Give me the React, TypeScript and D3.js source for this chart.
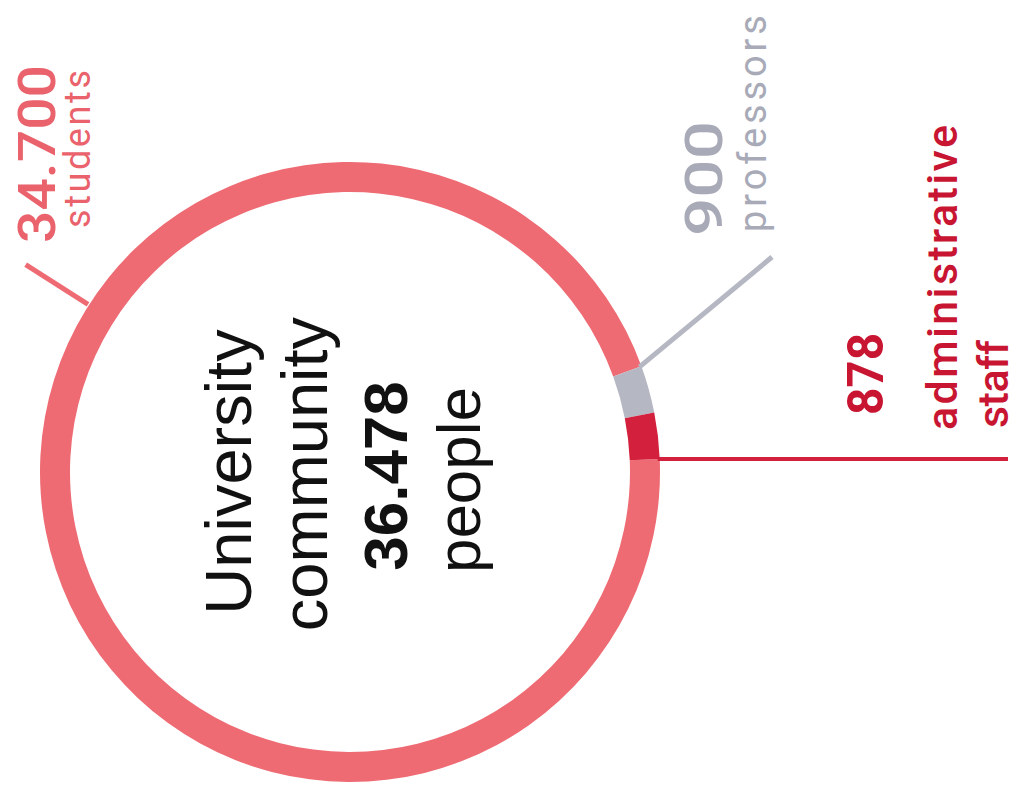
import React from "react";
import * as d3 from "d3";

// ---- data ----
const categories = ["students", "professors", "administrative staff"];
const counts = [34700, 900, 878];
const countLabels = ["34.700", "900", "878"];
const nameLines = [["students"], ["professors"], ["administrative", "staff"]];
const totalLabel = "36.478";
const centerLines = ["University", "community"];
const centerUnit = "people";

// ---- style / layout ----
const W = 1018;
const H = 787;
const cx = 350;
const cy = 472;
const R = 310;
const r = 280;
const sliceColors = ["#ee6b73", "#b5b7c3", "#d3203d"];
const labelColors = ["#e9626c", "#a8aab7", "#c81532"];
const adminEndDeg = 87.6;

export default function App() {
  const data = categories.map((c, i) => ({ name: c, value: counts[i] }));
  const start = (adminEndDeg * Math.PI) / 180;
  const pie = d3
    .pie<{ name: string; value: number }>()
    .sort(null)
    .value((d) => d.value)
    .startAngle(start)
    .endAngle(start + 2 * Math.PI);
  const arcs = pie(data);
  const arc = d3
    .arc<d3.PieArcDatum<{ name: string; value: number }>>()
    .innerRadius(r)
    .outerRadius(R);

  const polar = (a: number, rad: number): [number, number] => [
    cx + rad * Math.sin(a),
    cy - rad * Math.cos(a),
  ];

  // leader lines
  const studAngle = (-57.4 * Math.PI) / 180;
  const studA = polar(studAngle, R + 1);
  const studB = polar(studAngle, R + 75);
  const profA = polar(arcs[1].startAngle, R - 2);
  const profB: [number, number] = [772, 257];
  const adminA = polar(arcs[2].endAngle, R - 2);
  const adminB: [number, number] = [1008, adminA[1]];

  const rot = (x: number, y: number) => `translate(${x},${y}) rotate(-90)`;
  const labelFont = "Roboto, 'Noto Sans', sans-serif";
  const centerFont = "'Liberation Sans', Arial, Helvetica, sans-serif";

  type Lbl = { t: string; x: number; y: number; len: number; size: number; weight: number; color: string; adj: string };
  const labels: Lbl[] = [
    { t: countLabels[0], x: 55, y: 243, len: 178, size: 52, weight: 500, color: labelColors[0], adj: "spacingAndGlyphs" },
    { t: nameLines[0][0], x: 90, y: 228, len: 158, size: 36, weight: 400, color: labelColors[0], adj: "spacing" },
    { t: countLabels[1], x: 722, y: 236, len: 115, size: 52, weight: 500, color: labelColors[1], adj: "spacingAndGlyphs" },
    { t: nameLines[1][0], x: 766, y: 232, len: 217, size: 38, weight: 400, color: labelColors[1], adj: "spacing" },
    { t: countLabels[2], x: 883, y: 415, len: 82, size: 50, weight: 700, color: labelColors[2], adj: "spacingAndGlyphs" },
    { t: nameLines[2][0], x: 957, y: 430, len: 305, size: 43, weight: 500, color: labelColors[2], adj: "spacing" },
    { t: nameLines[2][1], x: 1008, y: 428, len: 88, size: 43, weight: 500, color: labelColors[2], adj: "spacing" },
  ];

  return (
    <svg
      width={W}
      height={H}
      style={{ position: "absolute", left: 0, top: 0, background: "#fff" }}
    >
      <rect width={W} height={H} fill="#fff" />
      <g transform={`translate(${cx},${cy})`}>
        {arcs.map((a, i) => (
          <path key={i} d={arc(a) || ""} fill={sliceColors[i]} />
        ))}
      </g>
      <line x1={studA[0]} y1={studA[1]} x2={studB[0]} y2={studB[1]} stroke={sliceColors[0]} strokeWidth={5} />
      <line x1={profA[0]} y1={profA[1]} x2={profB[0]} y2={profB[1]} stroke={sliceColors[1]} strokeWidth={5} />
      <line x1={adminA[0]} y1={adminA[1]} x2={adminB[0]} y2={adminB[1]} stroke={sliceColors[2]} strokeWidth={4} />

      {labels.map((l, i) => (
        <text
          key={i}
          transform={rot(l.x, l.y)}
          fontFamily={labelFont}
          fontSize={l.size}
          fontWeight={l.weight}
          fill={l.color}
          textLength={l.len}
          lengthAdjust={l.adj}
        >
          {l.t}
        </text>
      ))}

      <g fontFamily={centerFont} fill="#111" textAnchor="middle">
        <text transform={rot(251, cy)} fontSize={65}>{centerLines[0]}</text>
        <text transform={rot(327, cy + 2)} fontSize={65}>{centerLines[1]}</text>
        <text transform={rot(407, cy + 4)} fontSize={62} fontWeight={700}>{totalLabel}</text>
        <text transform={rot(480, cy + 8)} fontSize={62}>{centerUnit}</text>
      </g>
    </svg>
  );
}
